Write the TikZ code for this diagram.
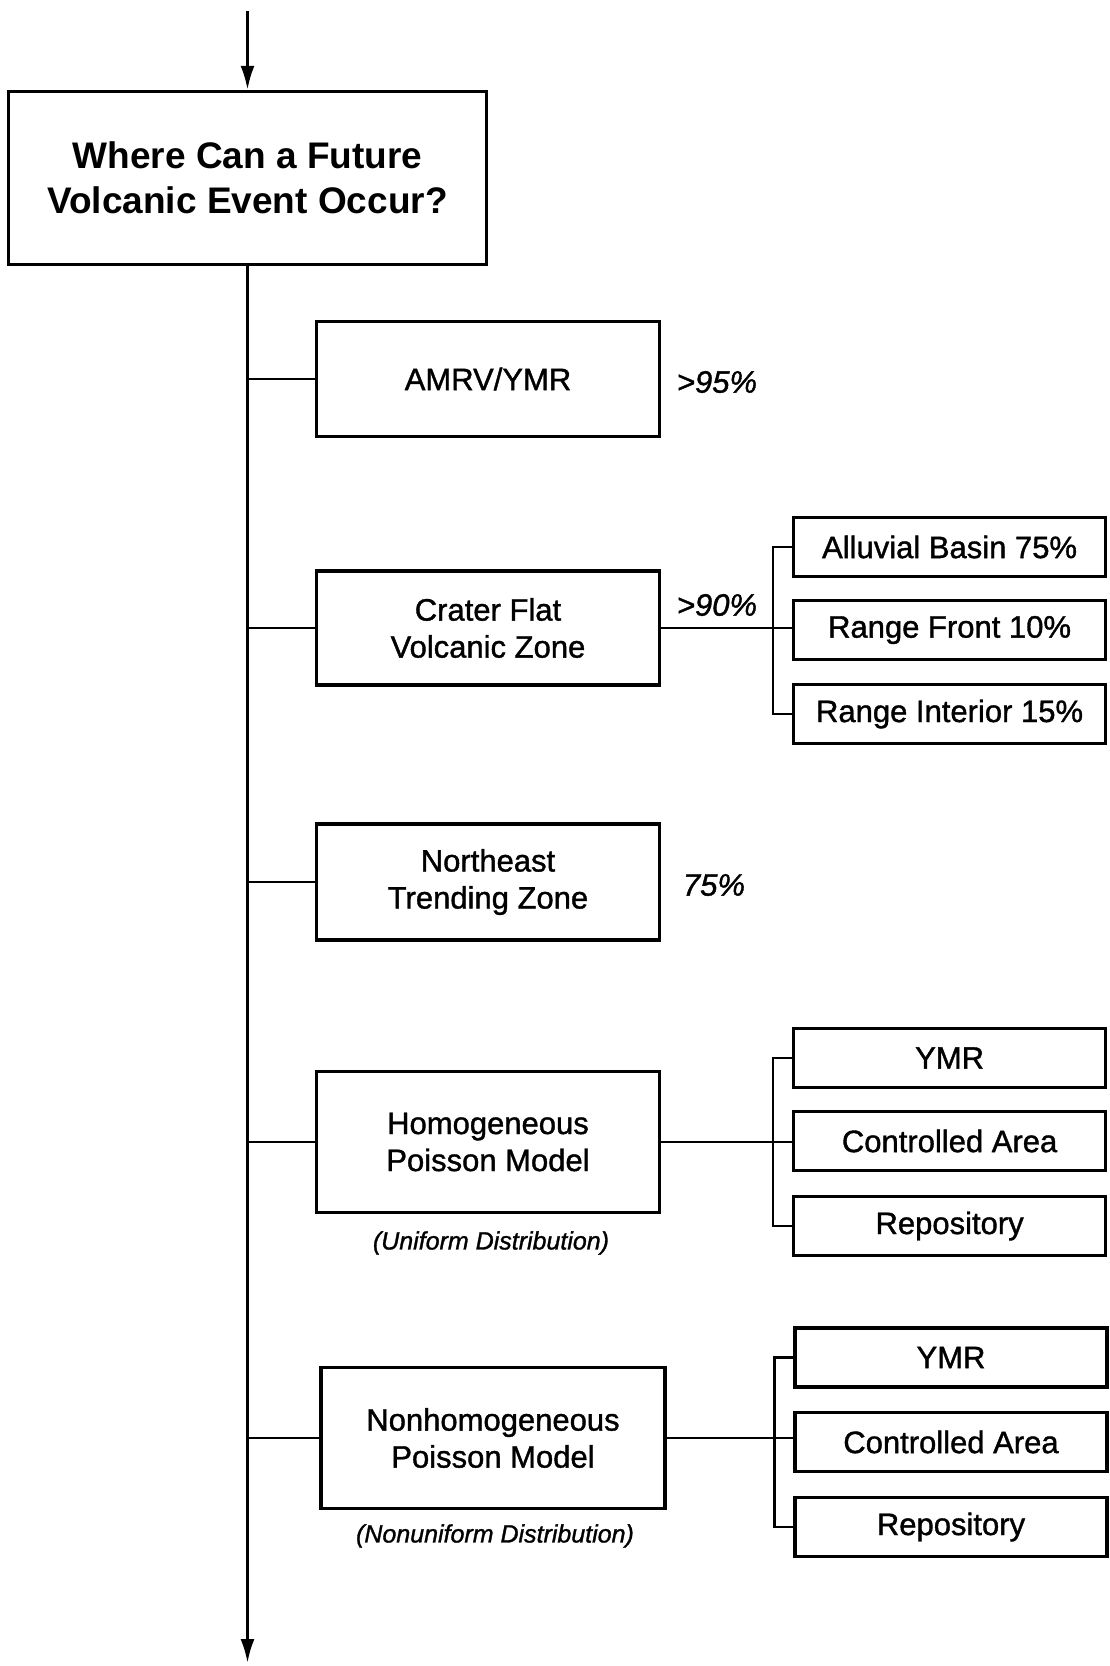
\documentclass[tikz,border=0pt]{standalone}
\usepackage{fontspec}
\setmainfont{Liberation Sans}
\newfontfamily\heavy{Liberation Sans}[FakeBold=1.2]
\usetikzlibrary{arrows.meta}
\begin{document}
\begin{tikzpicture}[x=1pt,y=-1pt,
  box/.style={draw,line width=3.3pt,inner sep=0pt,align=center,font=\heavy\fontsize{31}{37}\selectfont},
  subbox/.style={box,minimum width=312pt,minimum height=59pt},
  midbox/.style={box,minimum width=343pt,minimum height=115pt},
  conn/.style={line width=2.9pt},
  pct/.style={font=\heavy\fontsize{31}{37}\selectfont\itshape},
  note/.style={font=\heavy\fontsize{25}{30}\selectfont\itshape},
  arr/.style={conn,-{Latex[length=24pt,width=14pt]}}]
\useasboundingbox (0,0) rectangle (1110,1666);

% main question
\node[box,minimum width=478pt,minimum height=173pt,font=\fontsize{37}{45}\selectfont\bfseries] (main) at (247.5,178) {Where Can a Future\\Volcanic Event Occur?};
\coordinate (top) at (247.5,11);
\coordinate (bot) at (247.5,1663);
\draw[arr] (top) -- (main.north);
\draw[arr] (main.south) -- (bot);

% middle column
\node[midbox] (amrv) at (488,379) {AMRV/YMR};
\node[midbox,minimum height=114pt] (crater) at (488,628) {Crater Flat\\Volcanic Zone};
\node[midbox,minimum height=116pt] (ne) at (488,882) {Northeast\\Trending Zone};
\node[midbox,minimum height=141pt] (hom) at (488,1142) {Homogeneous\\Poisson Model};
\node[midbox,minimum width=344pt,minimum height=141pt] (nonhom) at (493,1438) {Nonhomogeneous\\Poisson Model};

\foreach \b in {amrv,crater,ne,hom,nonhom}
  \draw[conn] (\b.west) -- (\b.west -| main.south);

% percentages and notes
\node[pct] (p95) at (717,382) {>95\%};
\node[pct] (p90) at (717,605) {>90\%};
\node[pct] (p75) at (714,885) {75\%};
\node[note] (uni) at (491,1243) {(Uniform Distribution)};
\node[note] (nonuni) at (495,1536) {(Nonuniform Distribution)};

% crater sub-boxes
\node[subbox] (al) at (949.6,547) {Alluvial Basin 75\%};
\node[subbox] (rf) at (949.6,630) {Range Front 10\%};
\node[subbox] (ri) at (949.6,714) {Range Interior 15\%};
\draw[conn] (al.west) -- ++(-19,0) |- (ri.west);
\draw[conn] (crater.east) -- (crater.east -| rf.west);

% homogeneous sub-boxes
\node[subbox] (ya) at (949.6,1058) {YMR};
\node[subbox] (caa) at (949.6,1141) {Controlled Area};
\node[subbox] (rea) at (949.6,1226) {Repository};
\draw[conn] (ya.west) -- ++(-19,0) |- (rea.west);
\draw[conn] (hom.east) -- (hom.east -| caa.west);

% nonhomogeneous sub-boxes
\node[subbox] (yb) at (951,1357.5) {YMR};
\node[subbox] (cab) at (951,1442) {Controlled Area};
\node[subbox] (reb) at (951,1527) {Repository};
\draw[conn] (yb.west) -- ++(-19,0) |- (reb.west);
\draw[conn] (nonhom.east) -- (nonhom.east -| cab.west);
\end{tikzpicture}
\end{document}
